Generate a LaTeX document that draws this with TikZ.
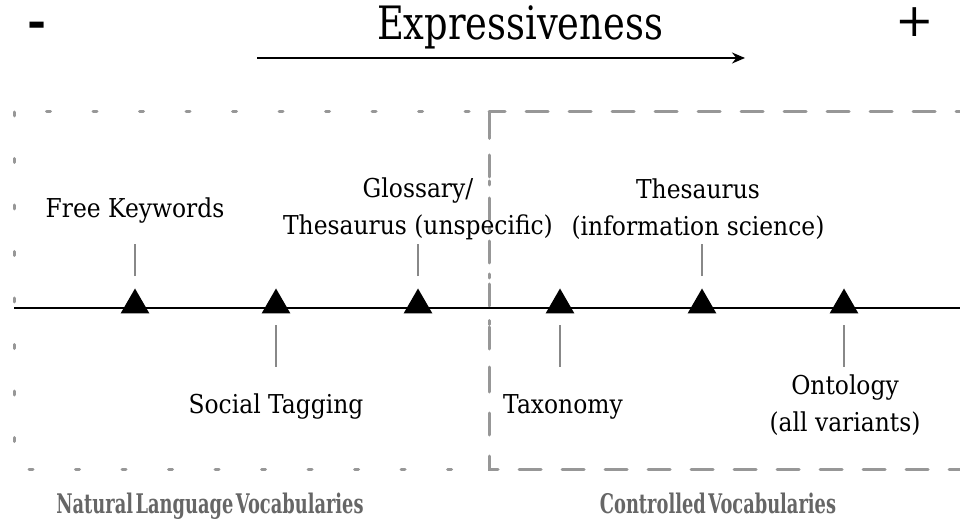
\documentclass[tikz,border=0pt]{standalone}
\usepackage{fontspec}
\setmainfont[FakeStretch=0.9]{DejaVu Serif}
\newfontfamily\titlefont[FakeStretch=0.8]{DejaVu Serif}
\newfontfamily\signfont{DejaVu Serif}
\newfontfamily\areafont[FakeStretch=0.66,WordSpace=0.4]{DejaVu Serif}
\usetikzlibrary{shapes.geometric,arrows.meta}
\definecolor{boxgray}{HTML}{979797}
\definecolor{tickgray}{HTML}{888888}
\definecolor{areagray}{HTML}{666666}
\begin{document}
\begin{tikzpicture}[x=1pt,y=-1pt,
  marker/.style={regular polygon,regular polygon sides=3,minimum size=33pt,
    inner sep=0pt,fill=black},
  tick/.style={draw=tickgray,line width=1.3pt},
  term/.style={font=\fontsize{26}{37}\selectfont,align=center,inner sep=0pt},
  area/.style={font=\areafont\bfseries\fontsize{27}{30}\selectfont,text=areagray,inner sep=0pt},
  sign/.style={font=\signfont\fontsize{46}{50}\selectfont,anchor=base,inner sep=0pt},
  natbox/.style={draw=boxgray,line width=3pt,line cap=round,dash pattern=on 4pt off 42.5pt},
  ctlbox/.style={draw=boxgray,line width=3pt,line cap=round,dash pattern=on 22pt off 21pt},
]
\useasboundingbox (0,0) rectangle (960,526);

% vocabulary areas
\begin{scope}
  \clip (0,0) rectangle (960,526);
  \draw[natbox] (14,112) rectangle (489,469);
  \draw[ctlbox] (489,112) rectangle (1000,469);
\end{scope}

% expressiveness scale
\node[font=\titlefont\fontsize{46}{50}\selectfont,anchor=base,inner sep=0pt] (title) at (520,40) {Expressiveness};
\node[sign,font=\signfont\bfseries\fontsize{46}{50}\selectfont] (minus) at (37,38) {-};
\node[sign] (plus) at (915,37) {+};
\coordinate (arrS) at (257,58);
\coordinate (arrE) at (745,58);
\draw[line width=1.5pt,-{Stealth[length=13pt,width=11pt]}] (arrS) -- (arrE);

% axis
\coordinate (axS) at (14,308);
\coordinate (axE) at (960,308);
\draw[line width=1.8pt] (axS) -- (axE);

% markers
\node[marker] (m1) at (135,305) {};
\node[marker] (m2) at (276,305) {};
\node[marker] (m3) at (418,305) {};
\node[marker] (m4) at (560,305) {};
\node[marker] (m5) at (702,305) {};
\node[marker] (m6) at (844,305) {};

% ticks
\draw[tick] ([yshift=12pt]m1.north) -- ([yshift=44pt]m1.north);
\draw[tick] ([yshift=12pt]m3.north) -- ([yshift=44pt]m3.north);
\draw[tick] ([yshift=12pt]m5.north) -- ([yshift=44pt]m5.north);
\draw[tick] ([yshift=-12pt]m2.south) -- ([yshift=-54pt]m2.south);
\draw[tick] ([yshift=-12pt]m4.south) -- ([yshift=-54pt]m4.south);
\draw[tick] ([yshift=-12pt]m6.south) -- ([yshift=-54pt]m6.south);

% terms
\node[term,anchor=base] (kw) at (135,218) {Free Keywords};
\node[term] (gl) at (418,209) {Glossary/\\Thesaurus (unspecific)};
\node[term] (th) at (698,209) {Thesaurus\\(information science)};
\node[term,anchor=base] (st) at (276,413) {Social Tagging};
\node[term,anchor=base] (tx) at (563,413) {Taxonomy};
\node[term] (on) at (845,405) {Ontology\\(all variants)};

% area captions
\node[area,anchor=base] (nat) at (210,513) {Natural Language Vocabularies};
\node[area,anchor=base] (ctl) at (718,513) {Controlled Vocabularies};
\end{tikzpicture}
\end{document}
